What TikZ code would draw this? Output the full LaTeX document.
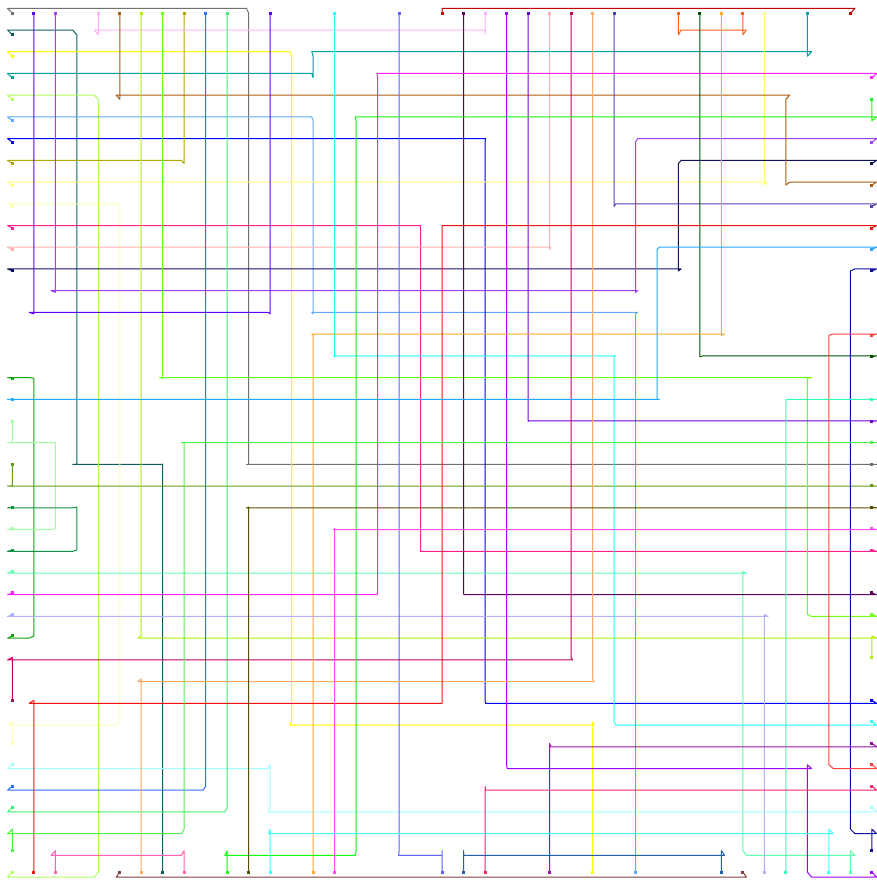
\documentclass[tikz,border=0pt]{standalone}
\usepackage{xcolor}

% one leg on the upper layer: down from the pin grid, along, and back
\newcommand{\hrun}[3]{(p#1-#3) -- (w#1-#3) -- (w#2-#3) -- (p#2-#3)}
\newcommand{\net}[4]{%
  \definecolor{netcol}{HTML}{#1}%
  \draw[wire] #4;
  \node[netpin] (n#2) at (p#2) {};
  \node[netpin] (n#3) at (p#3) {};
}

\begin{document}
\begin{tikzpicture}[x=1pt, y=-1pt,
  wire/.style={draw=netcol, line width=1pt, line join=round},
  netpin/.style={rectangle, fill=netcol, inner sep=0pt, minimum size=3pt}
]
\useasboundingbox (0,0) rectangle (877,881);

\foreach \i in {0,...,40} {
  \foreach \j in {0,...,40} {
    \coordinate (p\i-\j) at ({12.3+21.49*\i},{13.3+21.47*\j});
    \coordinate (w\i-\j) at ({442.1+21.73*(\i-20)},{442.7+21.72*(\j-20)});
  }
}

% nets leaving the left edge
\net{707070}{0-0}{40-21}{\hrun{0}{11}{0} -- \hrun{11}{40}{21}}
\net{0A5F5F}{0-1}{7-40}{\hrun{0}{3}{1} -- \hrun{3}{7}{21} -- (p7-40)}
\net{FFFF00}{0-2}{27-40}{\hrun{0}{13}{2} -- \hrun{13}{27}{33} -- (p27-40)}
\net{00A0A0}{0-3}{37-0}{\hrun{0}{14}{3} -- \hrun{14}{37}{2} -- (p37-0)}
\net{B0FF60}{0-4}{0-40}{\hrun{0}{4}{4} -- \hrun{4}{0}{40}}
\net{60A8FF}{0-5}{29-40}{\hrun{0}{14}{5} -- \hrun{14}{29}{14} -- (p29-40)}
\net{0000FF}{0-6}{40-32}{\hrun{0}{22}{6} -- \hrun{22}{40}{32}}
\net{B0A800}{0-7}{8-0}{\hrun{0}{8}{7} -- (p8-0)}
\net{FFFF80}{0-8}{35-0}{\hrun{0}{35}{8} -- (p35-0)}
\net{FFFFB0}{0-9}{0-34}{\hrun{0}{5}{9} -- \hrun{5}{0}{33} -- (p0-34)}
\net{FF2090}{0-10}{40-25}{\hrun{0}{19}{10} -- \hrun{19}{40}{25}}
\net{FFB0B0}{0-11}{25-0}{\hrun{0}{25}{11} -- (p25-0)}
\net{101060}{0-12}{40-7}{\hrun{0}{31}{12} -- \hrun{31}{40}{7}}
\net{10A010}{0-17}{0-29}{\hrun{0}{1}{17} -- \hrun{1}{0}{29}}
\net{A0FFA0}{0-19}{0-24}{(p0-19) -- \hrun{0}{2}{20} -- \hrun{2}{0}{24}}
\net{60A010}{0-21}{40-22}{(p0-21) -- \hrun{0}{40}{22}}
\net{109040}{0-23}{0-25}{\hrun{0}{3}{23} -- \hrun{3}{0}{25}}
\net{60FFB0}{0-26}{39-40}{\hrun{0}{34}{26} -- \hrun{34}{39}{39} -- (p39-40)}
\net{B0B0FF}{0-28}{35-40}{\hrun{0}{35}{28} -- (p35-40)}
\net{A0FFFF}{0-35}{40-37}{\hrun{0}{12}{35} -- \hrun{12}{40}{37}}

% nets leaving the top edge
\net{A040FF}{2-0}{40-6}{(p2-0) -- \hrun{2}{29}{13} -- \hrun{29}{40}{6}}
\net{FFB0FF}{4-0}{22-0}{(p4-0) -- \hrun{4}{22}{1} -- (p22-0)}
\net{A85C10}{5-0}{40-8}{(p5-0) -- \hrun{5}{36}{4} -- \hrun{36}{40}{8}}
\net{B0F000}{6-0}{40-30}{(p6-0) -- \hrun{6}{40}{29} -- (p40-30)}
\net{70FF10}{7-0}{40-28}{(p7-0) -- \hrun{7}{37}{17} -- \hrun{37}{40}{28}}
\net{3070FF}{9-0}{0-36}{(p9-0) -- \hrun{9}{0}{36}}
\net{40F070}{10-0}{0-37}{(p10-0) -- \hrun{10}{0}{37}}
\net{6000FF}{12-0}{1-0}{(p12-0) -- \hrun{12}{1}{14} -- (p1-0)}
\net{20FFFF}{15-0}{40-33}{(p15-0) -- \hrun{15}{28}{16} -- \hrun{28}{40}{33}}
\net{6060FF}{18-0}{20-40}{(p18-0) -- \hrun{18}{20}{39} -- (p20-40)}
\net{C00000}{20-0}{39-0}{\hrun{20}{39}{0}}
\net{600060}{21-0}{40-27}{(p21-0) -- \hrun{21}{40}{27}}
\net{A000FF}{23-0}{40-40}{(p23-0) -- \hrun{23}{37}{35} -- \hrun{37}{40}{40}}
\net{7000D0}{24-0}{40-19}{(p24-0) -- \hrun{24}{40}{19}}
\net{C00060}{26-0}{0-32}{(p26-0) -- \hrun{26}{0}{30} -- (p0-32)}
\net{FFA860}{27-0}{6-40}{(p27-0) -- \hrun{27}{6}{31} -- (p6-40)}
\net{5040B0}{28-0}{40-9}{(p28-0) -- \hrun{28}{40}{9}}
\net{FF6020}{31-0}{34-0}{(p31-0) -- \hrun{31}{34}{1} -- (p34-0)}
\net{005000}{32-0}{40-16}{(p32-0) -- \hrun{32}{40}{16}}
\net{FFA830}{33-0}{14-40}{(p33-0) -- \hrun{33}{14}{15} -- (p14-40)}

% nets leaving the right edge
\net{FF20FF}{40-3}{0-27}{\hrun{40}{17}{3} -- \hrun{17}{0}{27}}
\net{10FF10}{40-4}{10-40}{(p40-4) -- \hrun{40}{16}{5} -- \hrun{16}{10}{39} -- (p10-40)}
\net{F01010}{40-10}{1-40}{\hrun{40}{20}{10} -- \hrun{20}{1}{32} -- (p1-40)}
\net{20A8FF}{40-11}{0-18}{\hrun{40}{30}{11} -- \hrun{30}{0}{18}}
\net{1010A0}{40-12}{40-39}{\hrun{40}{39}{12} -- \hrun{39}{40}{38} -- (p40-39)}
\net{FF4040}{40-15}{40-35}{\hrun{40}{38}{15} -- \hrun{38}{40}{35}}
\net{30FFB0}{40-18}{36-40}{\hrun{40}{36}{18} -- (p36-40)}
\net{50F050}{40-20}{0-39}{\hrun{40}{8}{20} -- \hrun{8}{0}{38} -- (p0-39)}
\net{585000}{40-23}{11-40}{\hrun{40}{11}{23} -- (p11-40)}
\net{FF50F0}{40-24}{15-40}{\hrun{40}{15}{24} -- (p15-40)}
\net{A010A0}{40-34}{25-40}{\hrun{40}{25}{34} -- (p25-40)}
\net{FF2070}{40-36}{22-40}{\hrun{40}{22}{36} -- (p22-40)}

% nets along the bottom edge
\net{FF60B0}{2-40}{8-40}{(p2-40) -- \hrun{2}{8}{39} -- (p8-40)}
\net{804040}{5-40}{34-40}{\hrun{5}{34}{40}}
\net{40FFFF}{12-40}{38-40}{(p12-40) -- \hrun{12}{38}{38} -- (p38-40)}
\net{2060B0}{21-40}{33-40}{(p21-40) -- \hrun{21}{33}{39} -- (p33-40)}
\end{tikzpicture}
\end{document}
